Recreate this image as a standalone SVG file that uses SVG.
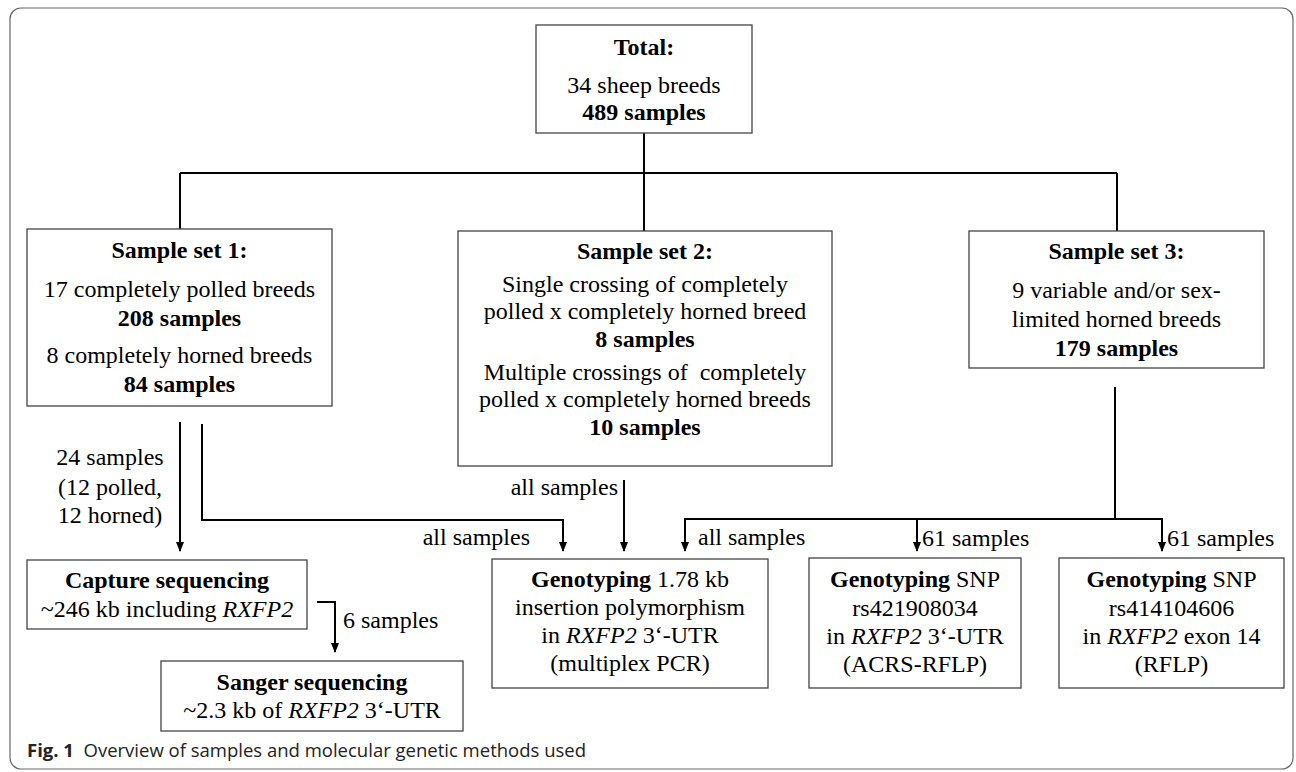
<svg xmlns="http://www.w3.org/2000/svg" width="1296" height="772" viewBox="0 0 1296 772">
<style>
  .box { fill: #fff; stroke: #444; stroke-width: 1.3; }
  .t { font-family: "Liberation Serif", "Times New Roman", serif; font-size: 24px; fill: #000; text-anchor: middle; }
  .b { font-weight: bold; }
  .l { font-family: "Liberation Serif", "Times New Roman", serif; font-size: 24px; fill: #000; }
  .c { fill: none; stroke: #000; stroke-width: 2; }
  .cap { font-family: "Open Sans", "Noto Sans", sans-serif; font-size: 18.5px; fill: #222; }
</style>
<defs>
  <marker id="ah" markerUnits="userSpaceOnUse" markerWidth="10" markerHeight="10" viewBox="0 0 10 8" refX="9" refY="4" orient="auto">
    <path d="M0,0 L10,4 L0,8 z" fill="#000"/>
  </marker>
</defs>
<rect x="10" y="8" width="1283" height="761" rx="11" fill="#fff" stroke="#666" stroke-width="1.2"/>

<g id="connectors">
  <path class="c" d="M644,133 V173"/>
  <path class="c" d="M180,173 H1117"/>
  <path class="c" d="M180,173 V229"/>
  <path class="c" d="M644,173 V231"/>
  <path class="c" d="M1117,173 V231"/>
  <path class="c" d="M180,422 V551" marker-end="url(#ah)"/>
  <path class="c" d="M202,424 V520 H563 V551" marker-end="url(#ah)"/>
  <path class="c" d="M624,480 V551" marker-end="url(#ah)"/>
  <path class="c" d="M1115,387 V519"/>
  <path class="c" d="M685,551 V519 H1162 V551" marker-end="url(#ah)"/>
  <path class="c" d="M685,530 V551" marker-end="url(#ah)"/>
  <path class="c" d="M917,519 V551" marker-end="url(#ah)"/>
  <path class="c" d="M317,602 H335 V652" marker-end="url(#ah)"/>
  <text class="l" x="110" y="465" text-anchor="middle">24 samples</text>
  <text class="l" x="110" y="495" text-anchor="middle">(12 polled,</text>
  <text class="l" x="110" y="523" text-anchor="middle">12 horned)</text>
  <text class="l" x="530" y="545" text-anchor="end">all samples</text>
  <text class="l" x="618" y="495" text-anchor="end">all samples</text>
  <text class="l" x="698" y="545">all samples</text>
  <text class="l" x="922" y="546">61 samples</text>
  <text class="l" x="1167" y="546">61 samples</text>
  <text class="l" x="343" y="628">6 samples</text>
</g>

<g id="total">
  <rect class="box" x="536" y="25" width="216" height="108"/>
  <text class="t b" x="644" y="55">Total:</text>
  <text class="t" x="644" y="93">34 sheep breeds</text>
  <text class="t b" x="644" y="120">489 samples</text>
</g>

<g id="set1">
  <rect class="box" x="27" y="229" width="305" height="177"/>
  <text class="t b" x="179.5" y="258">Sample set 1:</text>
  <text class="t" x="179.5" y="297">17 completely polled breeds</text>
  <text class="t b" x="179.5" y="326">208 samples</text>
  <text class="t" x="179.5" y="363">8 completely horned breeds</text>
  <text class="t b" x="179.5" y="392">84 samples</text>
</g>

<g id="set2">
  <rect class="box" x="458" y="231" width="374" height="235"/>
  <text class="t b" x="645" y="259">Sample set 2:</text>
  <text class="t" x="645" y="292">Single crossing of completely</text>
  <text class="t" x="645" y="319">polled x completely horned breed</text>
  <text class="t b" x="645" y="347">8 samples</text>
  <text class="t" x="645" y="380" xml:space="preserve">Multiple crossings of  completely</text>
  <text class="t" x="645" y="407">polled x completely horned breeds</text>
  <text class="t b" x="645" y="435">10 samples</text>
</g>

<g id="set3">
  <rect class="box" x="969" y="231" width="295" height="137"/>
  <text class="t b" x="1116.5" y="259">Sample set 3:</text>
  <text class="t" x="1116.5" y="298">9 variable and/or sex-</text>
  <text class="t" x="1116.5" y="327">limited horned breeds</text>
  <text class="t b" x="1116.5" y="356">179 samples</text>
</g>

<g id="capture">
  <rect class="box" x="27" y="560" width="280" height="69"/>
  <text class="t b" x="167" y="588">Capture sequencing</text>
  <text class="t" x="167" y="617">~246 kb including <tspan font-style="italic">RXFP2</tspan></text>
</g>

<g id="sanger">
  <rect class="box" x="161" y="661" width="302" height="70"/>
  <text class="t b" x="312" y="690">Sanger sequencing</text>
  <text class="t" x="312" y="718">~2.3 kb of <tspan font-style="italic">RXFP2</tspan> 3‘-UTR</text>
</g>

<g id="geno1">
  <rect class="box" x="492" y="559" width="276" height="129"/>
  <text class="t" x="630" y="587"><tspan class="b">Genotyping</tspan> 1.78 kb</text>
  <text class="t" x="630" y="615">insertion polymorphism</text>
  <text class="t" x="630" y="643">in <tspan font-style="italic">RXFP2</tspan> 3‘-UTR</text>
  <text class="t" x="630" y="671">(multiplex PCR)</text>
</g>

<g id="geno2">
  <rect class="box" x="809" y="558" width="212" height="130"/>
  <text class="t" x="915" y="587"><tspan class="b">Genotyping</tspan> SNP</text>
  <text class="t" x="915" y="616">rs421908034</text>
  <text class="t" x="915" y="644">in <tspan font-style="italic">RXFP2</tspan> 3‘-UTR</text>
  <text class="t" x="915" y="672">(ACRS-RFLP)</text>
</g>

<g id="geno3">
  <rect class="box" x="1059" y="558" width="225" height="130"/>
  <text class="t" x="1171.5" y="587"><tspan class="b">Genotyping</tspan> SNP</text>
  <text class="t" x="1171.5" y="616">rs414104606</text>
  <text class="t" x="1171.5" y="644">in <tspan font-style="italic">RXFP2</tspan> exon 14</text>
  <text class="t" x="1171.5" y="672">(RFLP)</text>
</g>

<text class="cap" x="27" y="757" xml:space="preserve"><tspan font-weight="bold">Fig. 1</tspan>  Overview of samples and molecular genetic methods used</text>
</svg>
